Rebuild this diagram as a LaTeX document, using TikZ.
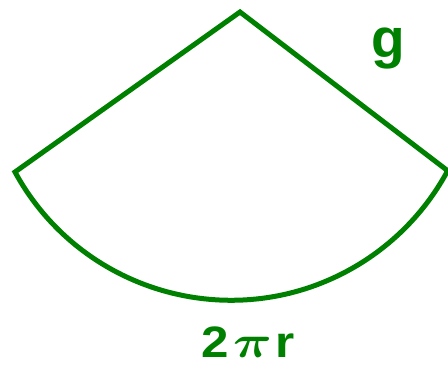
\documentclass[tikz,border=0pt]{standalone}
\usepackage{fontspec}
\setmainfont{Liberation Sans}
\newfontfamily\widesans[FakeStretch=1.12]{Liberation Sans}
\definecolor{sectorgreen}{RGB}{0,128,0}
\newcommand{\glabelfont}{\fontsize{27.5}{30}\selectfont\bfseries}
\newcommand{\arclabelfont}{\widesans\fontsize{22}{24}\selectfont\bfseries}
\tikzset{
  rim/.style={draw=sectorgreen, line width=2.5pt, line join=miter},
  lbl/.style={text=sectorgreen, anchor=base, inner sep=0pt}
}
\begin{document}
\begin{tikzpicture}[x=0.5pt, y=-0.5pt]
  \useasboundingbox (0,0) rectangle (448,375);
  \coordinate (O) at (240,12);
  \coordinate (L) at (15,172);
  \coordinate (R) at (448,171);
  \draw[rim] (R) -- (O) -- (L) arc[start angle=208.6, end angle=331.8, radius=123pt];
  \node[lbl, font=\glabelfont] (g) at (388,57) {g};
  \node[lbl, font=\arclabelfont] (arclen) at (248,357)
    {2\kern2pt\scalebox{1.3}[1.1]{\boldmath$\pi$}\kern1.5pt r};
\end{tikzpicture}
\end{document}
